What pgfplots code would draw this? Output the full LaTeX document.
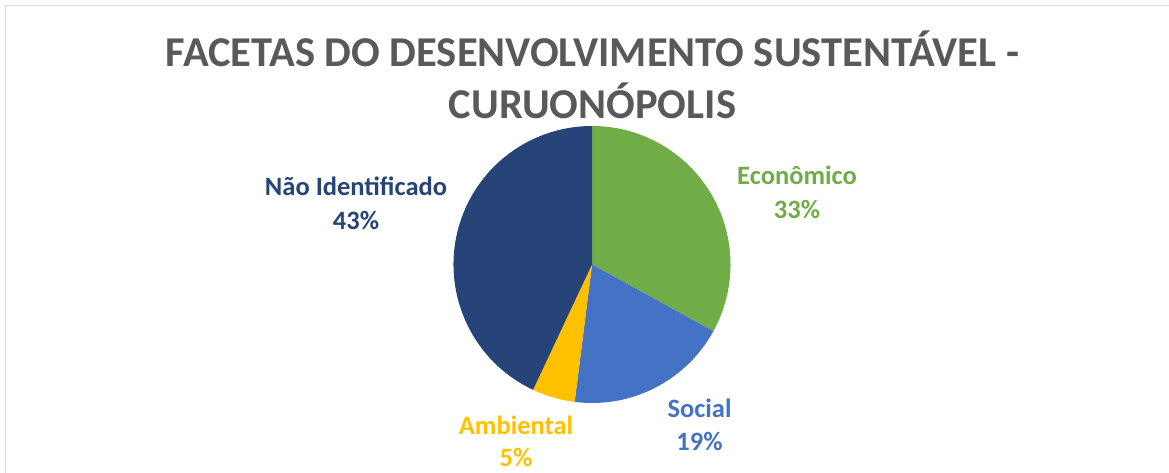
\documentclass[border=0pt]{standalone}
\usepackage{pgfplots}
\usepackage{pgfplotstable}
\pgfplotsset{compat=1.18}
\usepackage{fontspec}
\setmainfont{Carlito}
\definecolor{econ}{HTML}{70AD47}
\definecolor{soc}{HTML}{4472C4}
\definecolor{amb}{HTML}{FFC000}
\definecolor{nid}{HTML}{264478}
\definecolor{titlegray}{HTML}{595959}
\definecolor{framegray}{HTML}{D9D9D9}
\pgfplotstableread[col sep=comma]{
label,value,color
Econômico,33,econ
Social,19,soc
Ambiental,5,amb
Não Identificado,43,nid
}\piedata
\begin{document}
\begin{tikzpicture}
\begin{axis}[at={(0,0)}, anchor=south west, scale only axis,
  width=1169pt, height=473pt, xmin=0, xmax=1169, ymin=0, ymax=473,
  hide axis, clip=false]
\def\cumul{0}
\pgfplotsforeachungrouped \i in {0,...,3}{%
  \pgfplotstablegetelem{\i}{value}\of\piedata \let\val\pgfplotsretval
  \pgfplotstablegetelem{\i}{color}\of\piedata \let\col\pgfplotsretval
  \pgfmathsetmacro\sa{90-3.6*\cumul}%
  \pgfmathsetmacro\ea{90-3.6*(\cumul+\val)}%
  \edef\temp{\noexpand\fill[\col] (axis cs:592,208.5) -- ([shift={(\sa:138.5pt)}]axis cs:592,208.5) arc[start angle=\sa, end angle=\ea, radius=138.5pt] -- cycle;}%
  \temp
  \pgfmathsetmacro\cumul{\cumul+\val}%
}
\tikzset{tl/.style={anchor=base, inner sep=0pt, text=titlegray, font=\bfseries\fontsize{42.5}{50}\selectfont},
         lb/.style={anchor=base, inner sep=0pt, font=\bfseries\fontsize{26.5}{32}\selectfont}}
\node[tl] at (axis cs:592.5,406) {FACETAS DO DESENVOLVIMENTO SUSTENTÁVEL -};
\node[tl] at (axis cs:592.5,354) {CURUONÓPOLIS};
\node[lb, text=econ] at (axis cs:797,288) {Econômico};
\node[lb, text=econ] at (axis cs:797,254) {33\%};
\node[lb, text=nid] at (axis cs:356,277) {Não Identificado};
\node[lb, text=nid] at (axis cs:356,243) {43\%};
\node[lb, text=soc] at (axis cs:699.5,55) {Social};
\node[lb, text=soc] at (axis cs:699.5,22) {19\%};
\node[lb, text=amb] at (axis cs:516,38) {Ambiental};
\node[lb, text=amb] at (axis cs:516,6) {5\%};
\draw[framegray, line width=1.5pt] (axis cs:5.5,-20) -- (axis cs:5.5,467.5) -- (axis cs:1190,467.5);
\end{axis}
\pgfresetboundingbox
\useasboundingbox (0,0) rectangle (1169pt,473pt);
\end{tikzpicture}
\end{document}
